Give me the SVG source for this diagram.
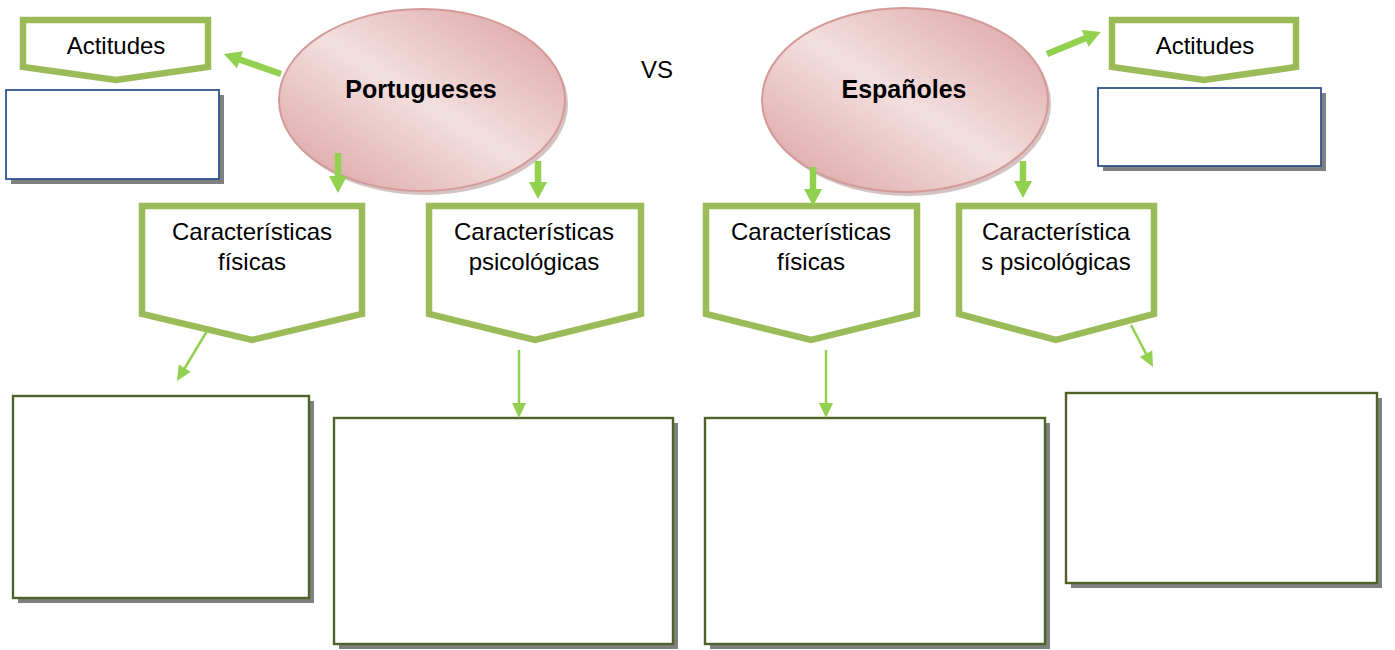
<svg xmlns="http://www.w3.org/2000/svg" width="1395" height="650" viewBox="0 0 1395 650">
<style>
  text { font-family: "Liberation Sans", Arial, sans-serif; fill: #000; }
  .lbl { font-size: 24px; text-anchor: middle; }
  .big { font-size: 25px; font-weight: bold; text-anchor: middle; }
  .pent { fill: #fff; stroke: #9BBB59; stroke-width: 6.5; stroke-linejoin: miter; }
  .ell { fill: url(#pink); stroke: #D39A98; stroke-width: 2; }
  .eshadow { fill: #A88888; opacity: 0.5; }
  .shadow { fill: #808080; }
  .bluebox { fill: #fff; stroke: #2F5389; stroke-width: 1.8; }
  .greenbox { fill: #fff; stroke: #4F6228; stroke-width: 2.4; }
  .thick { stroke: #92D050; stroke-width: 6.5; fill: none; marker-end: url(#headThick); }
  .thin { stroke: #92D050; stroke-width: 2.5; fill: none; marker-end: url(#headThin); }
</style>
<defs>
  <linearGradient id="pink" x1="1" y1="0" x2="0" y2="1">
    <stop offset="0" stop-color="#DA9F9E"/>
    <stop offset="0.5" stop-color="#F3DFDF"/>
    <stop offset="1" stop-color="#DA9F9E"/>
  </linearGradient>
  <marker id="headThick" markerUnits="userSpaceOnUse" orient="auto" refX="0" refY="0" overflow="visible">
    <path d="M-1,-9 L16,0 L-1,9 Z" fill="#92D050"/>
  </marker>
  <marker id="headThin" markerUnits="userSpaceOnUse" orient="auto" refX="0" refY="0" overflow="visible">
    <path d="M-1,-7 L14,0 L-1,7 Z" fill="#92D050"/>
  </marker>
</defs>

<g id="portugueses">
  <ellipse class="eshadow" cx="425" cy="104" rx="143" ry="91"/>
  <ellipse class="ell" cx="422" cy="100" rx="143" ry="91"/>
  <text class="big" x="421" y="98">Portugueses</text>
</g>

<g id="vs">
  <text class="lbl" x="657" y="78">VS</text>
</g>

<g id="espanoles">
  <ellipse class="eshadow" cx="908" cy="104" rx="143" ry="92"/>
  <ellipse class="ell" cx="905" cy="100" rx="143" ry="92"/>
  <text class="big" x="904" y="98">Españoles</text>
</g>

<g id="actitudes-pt">
  <polygon class="pent" points="23,20 208,20 208,67 116,80 23,67"/>
  <text class="lbl" x="116" y="54">Actitudes</text>
</g>
<g id="actitudes-pt-box">
  <rect class="shadow" x="11" y="95" width="213" height="89"/>
  <rect class="bluebox" x="6" y="90" width="213" height="89"/>
</g>

<g id="actitudes-es">
  <polygon class="pent" points="1112,20 1296,20 1296,67 1204,80 1112,67"/>
  <text class="lbl" x="1205" y="54">Actitudes</text>
</g>
<g id="actitudes-es-box">
  <rect class="shadow" x="1103" y="93" width="223" height="78"/>
  <rect class="bluebox" x="1098" y="88" width="223" height="78"/>
</g>

<g id="fisicas-pt">
  <polygon class="pent" points="142,206 362,206 362,314 252,340 142,314"/>
  <text class="lbl" x="252" y="240">Características</text>
  <text class="lbl" x="252" y="270">físicas</text>
</g>
<g id="psico-pt">
  <polygon class="pent" points="429,206 641,206 641,314 535,340 429,314"/>
  <text class="lbl" x="534" y="240">Características</text>
  <text class="lbl" x="534" y="270">psicológicas</text>
</g>
<g id="fisicas-es">
  <polygon class="pent" points="706,206 917,206 917,314 811,340 706,314"/>
  <text class="lbl" x="811" y="240">Características</text>
  <text class="lbl" x="811" y="270">físicas</text>
</g>
<g id="psico-es">
  <polygon class="pent" points="959,206 1154,206 1154,314 1056,340 959,314"/>
  <text class="lbl" x="1056" y="240">Característica</text>
  <text class="lbl" x="1056" y="270">s psicológicas</text>
</g>

<g id="box-fisicas-pt">
  <rect class="shadow" x="18" y="401" width="296" height="202"/>
  <rect class="greenbox" x="13" y="396" width="296" height="202"/>
</g>
<g id="box-psico-pt">
  <rect class="shadow" x="339" y="423" width="339" height="226"/>
  <rect class="greenbox" x="334" y="418" width="339" height="226"/>
</g>
<g id="box-fisicas-es">
  <rect class="shadow" x="710" y="423" width="340" height="226"/>
  <rect class="greenbox" x="705" y="418" width="340" height="226"/>
</g>
<g id="box-psico-es">
  <rect class="shadow" x="1071" y="398" width="311" height="190"/>
  <rect class="greenbox" x="1066" y="393" width="311" height="190"/>
</g>

<g id="connectors">
  <line class="thick" x1="281" y1="74" x2="239" y2="59.3"/>
  <line class="thick" x1="1047" y1="54" x2="1086" y2="38"/>
  <line class="thick" x1="338" y1="153" x2="338" y2="177"/>
  <line class="thick" x1="538" y1="161" x2="538" y2="183"/>
  <line class="thick" x1="813" y1="167" x2="813" y2="190"/>
  <line class="thick" x1="1023" y1="161" x2="1023" y2="182"/>
  <line class="thin" x1="207" y1="331" x2="184.2" y2="369"/>
  <line class="thin" x1="519" y1="350" x2="519" y2="404"/>
  <line class="thin" x1="826" y1="350" x2="826" y2="404"/>
  <line class="thin" x1="1131" y1="325" x2="1146.5" y2="354.6"/>
</g>
</svg>
